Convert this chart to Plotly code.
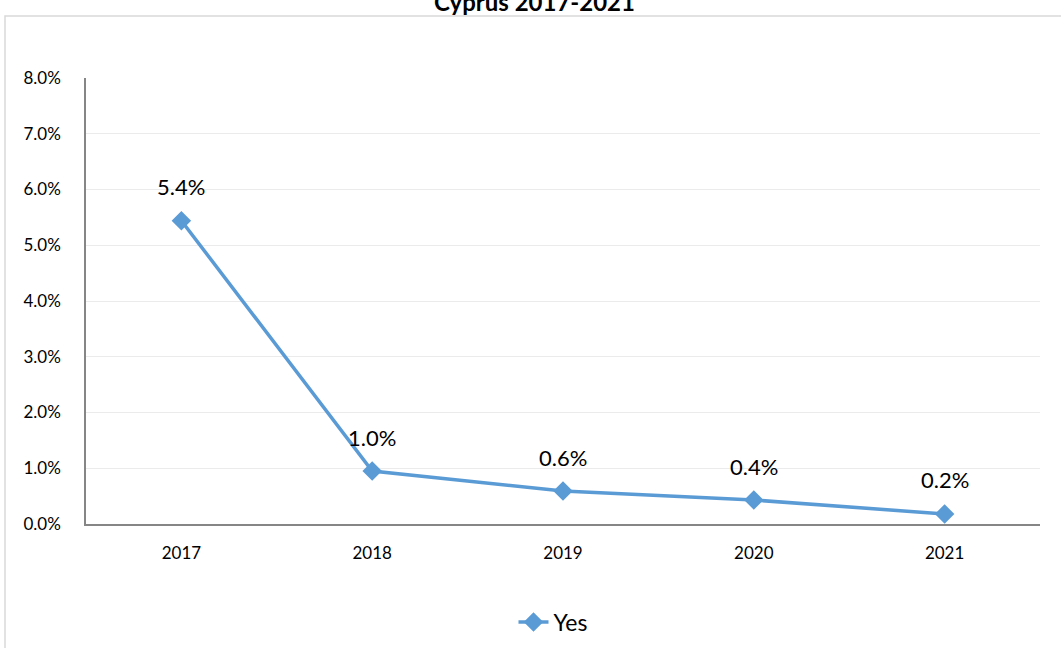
import plotly.graph_objects as go

years = ["2017", "2018", "2019", "2020", "2021"]
yes_values = [5.44, 0.95, 0.59, 0.43, 0.18]
value_labels = ["5.4%", "1.0%", "0.6%", "0.4%", "0.2%"]
y_ticks = [0, 1, 2, 3, 4, 5, 6, 7, 8]
y_tick_labels = ["0.0%", "1.0%", "2.0%", "3.0%", "4.0%", "5.0%", "6.0%", "7.0%", "8.0%"]

W, H = 1061, 648
L, R, T, B = 86, 21, 78, 0
PLOT_BOTTOM = 524
pw, ph = W - L - R, H - T - B
FONT = "Lato, Liberation Sans, Arial, sans-serif"

def px_x(x):
    return (x - L) / pw

def px_y(y):
    return (H - B - y) / ph

fig = go.Figure()
fig.add_trace(go.Scatter(
    x=years, y=yes_values, mode="lines+markers", name="Yes",
    line=dict(color="#5B9BD5", width=3.5),
    marker=dict(symbol="diamond", size=15, color="#5B9BD5"),
    cliponaxis=False,
))

annotations = [dict(x=i, y=v, text=lab, xref="x", yref="y", showarrow=False,
                    yshift=34, xanchor="center", yanchor="middle",
                    font=dict(size=22, color="#000000", family=FONT))
               for i, (v, lab) in enumerate(zip(yes_values, value_labels))]
annotations.append(dict(text="<b>Cyprus 2017-2021</b>", xref="paper", yref="paper",
                        x=px_x(534), y=px_y(1), xanchor="center", yanchor="middle",
                        showarrow=False, font=dict(size=24, color="#000000", family=FONT)))

fig.update_layout(
    width=W, height=H,
    margin=dict(l=L, r=R, t=T, b=B, pad=0),
    paper_bgcolor="white", plot_bgcolor="white",
    font=dict(family=FONT, color="#000000"),
    showlegend=True,
    legend=dict(orientation="h", x=px_x(553), y=px_y(622), xanchor="center", yanchor="middle",
                font=dict(size=23), bgcolor="rgba(0,0,0,0)"),
    xaxis=dict(type="category", range=[-0.5, 4.5], showgrid=False, automargin=False,
               showline=True, linecolor="#868686", linewidth=1.5,
               ticks="", tickfont=dict(size=17), ticklabelstandoff=13),
    yaxis=dict(range=[0, 8], tickvals=y_ticks, ticktext=y_tick_labels,
               domain=[px_y(PLOT_BOTTOM), 1], automargin=False,
               showgrid=True, gridcolor="#EBEBEB", gridwidth=1,
               showline=True, linecolor="#868686", linewidth=1.5,
               zeroline=False, ticks="", tickfont=dict(size=17), ticklabelstandoff=20),
    shapes=[dict(type="rect", xref="paper", yref="paper",
                 x0=px_x(5), x1=px_x(1070), y0=px_y(660), y1=px_y(16),
                 line=dict(color="#D9D9D9", width=1.5), fillcolor="rgba(0,0,0,0)", layer="below")],
    annotations=annotations,
)

fig.write_html("out.html", config={"displayModeBar": False},
               post_script="document.body.style.margin='0px';")
